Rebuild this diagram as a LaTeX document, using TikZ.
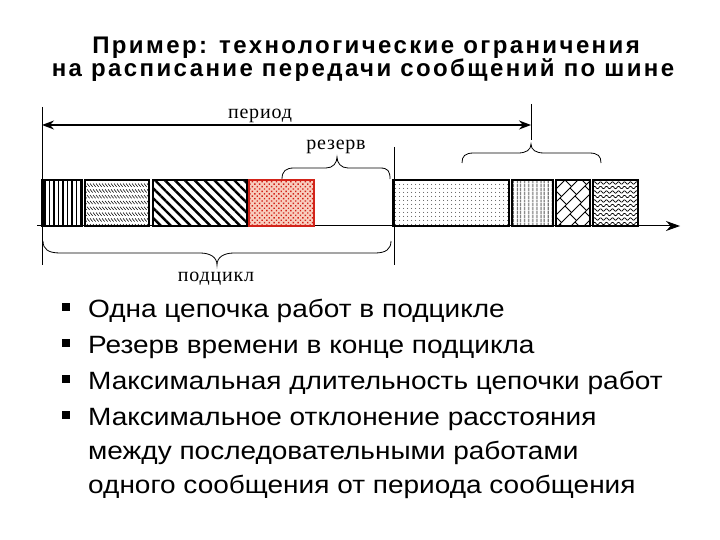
\documentclass[tikz,border=0pt]{standalone}
\usepackage{fontspec}
\setmainfont{Liberation Serif}
\newfontfamily\arialf[FakeStretch=1.12]{Liberation Sans}
\newfontfamily\arialt[LetterSpace=10]{Liberation Sans}
\newfontfamily\timesl[LetterSpace=4]{Liberation Serif}
\usetikzlibrary{patterns.meta,arrows.meta}
\definecolor{resred}{RGB}{210,35,25}
\definecolor{respink}{RGB}{248,205,190}
\begin{document}
\begin{tikzpicture}[x=1pt,y=-1pt,
  titlestyle/.style={font=\arialt\bfseries\fontsize{24}{24}\selectfont, anchor=base, inner sep=0pt},
  itemstyle/.style={font=\arialf\fontsize{25}{25}\selectfont, anchor=base west, inner sep=0pt},
  lblstyle/.style={font=\timesl\fontsize{20}{20}\selectfont, anchor=base, inner sep=0pt},
  boxstyle/.style={draw=black, line width=2.2pt},
  thinline/.style={line width=0.9pt},
  bracestyle/.style={line width=0.8pt},
  bulletstyle/.style={fill=black}]
\useasboundingbox (0,0) rectangle (720,540);

% title
\node[titlestyle] (t1) at (366,54) {Пример: технологические ограничения};
\node[titlestyle] (t2) at (363,77) {на расписание передачи сообщений по шине};

% vertical marker lines
\draw[thinline] (42,107) -- (42,265);
\draw[thinline] (394,147) -- (394,265);
\draw[thinline] (531,104) -- (531,140);

% period arrow
\draw[line width=1.4pt, {Stealth[length=12pt,width=9pt]}-{Stealth[length=12pt,width=9pt]}] (42,125) -- (531,125);
\node[lblstyle] (period) at (260,119) {период};

% reserve brace
\draw[bracestyle] (282,179) .. controls (282,171) and (286,168) .. (294,168) -- (326,168) .. controls (333,168) and (337,163) .. (337,157) .. controls (337,163) and (341,168) .. (348,168) -- (380,168) .. controls (388,168) and (390,171) .. (390,179);
\node[lblstyle] (reserve) at (336,150) {резерв};

% right brace
\draw[bracestyle] (462,163) .. controls (462,156) and (465,153) .. (474,153) -- (518,153) .. controls (526,153) and (531,150) .. (531,144) .. controls (531,150) and (536,153) .. (544,153) -- (589,153) .. controls (598,153) and (601,156) .. (601,163);

% subcycle brace
\draw[bracestyle] (43,241) .. controls (43,249) and (48,253) .. (60,253) -- (200,253) .. controls (210,253) and (217,257) .. (217,265) .. controls (217,257) and (224,253) .. (234,253) -- (375,253) .. controls (386,253) and (391,249) .. (391,241);
\node[lblstyle] (subcycle) at (216,281) {подцикл};

% time axis
\draw[line width=1pt, -{Stealth[length=14pt,width=10pt]}] (37,226) -- (680,226);

% box 1: vertical lines
\fill[pattern={Lines[angle=90,distance=4.5pt,line width=1.1pt]}] (42,180) rectangle (82,226);
\draw[boxstyle] (42,180) rectangle (82,226);
\draw[line width=2pt] (43.5,180) -- (43.5,226);

% box 2: rows of small slashes
\begin{scope}
\clip (85,180) rectangle (149,226);
\foreach \r in {0,...,7} {
  \foreach \c in {0,...,22} {
    \draw[line width=0.55pt] ({84+3*\c},{183.5+5.8*\r}) -- ++(2.6,3.2);
  }
}
\end{scope}
\draw[boxstyle] (85,180) rectangle (149,226);

% box 3: thick diagonals
\fill[pattern={Lines[angle=-45,distance=7pt,line width=2.4pt]}] (153,180) rectangle (247,226);
\draw[boxstyle] (153,180) rectangle (247,226);

% box 4: red dotted
\fill[respink] (249,180) rectangle (314,226);
\fill[pattern={Dots[angle=45,distance=3.4pt,radius=1pt]}, pattern color=resred] (249,180) rectangle (314,226);
\draw[boxstyle, draw=resred] (249,180) rectangle (314,226);

% box 5: fine dots
\fill[pattern={Dots[distance=4pt,radius=0.55pt]}] (393,180) rectangle (509,226);
\draw[boxstyle] (393,180) rectangle (509,226);

% box 6: vertical lines
\fill[pattern={Lines[angle=90,distance=4pt,line width=0.9pt]}] (512,180) rectangle (553,226);
\draw[boxstyle] (512,180) rectangle (553,226);

% box 7: diagonal bricks
\begin{scope}
\clip (556,180) rectangle (590,226);
\foreach \k in {0,...,7} {
  \pgfmathsetmacro\cc{732+13*\k}
  \draw[line width=0.8pt] ({\cc-240},240) -- ({\cc-170},170);
  \foreach \j in {0,...,6} {
    \pgfmathsetmacro\xx{540+10*\j+5*mod(\k,2)}
    \draw[line width=0.8pt] (\xx,{\cc-\xx}) -- ++(6.5,6.5);
  }
}
\end{scope}
\draw[boxstyle] (556,180) rectangle (590,226);

% box 8: waves
\begin{scope}
\clip (593,180) rectangle (638,226);
\foreach \yy in {183,187.5,...,226} {
  \draw[line width=0.7pt] plot[domain=0:50, samples=70, smooth] ({590+\x},{\yy+1.2*sin(\x*60)});
}
\end{scope}
\draw[boxstyle] (593,180) rectangle (638,226);

% bullets
\fill[bulletstyle] (62,303) rectangle (70,311);
\fill[bulletstyle] (62,339) rectangle (70,347);
\fill[bulletstyle] (62,375) rectangle (70,383);
\fill[bulletstyle] (62,411) rectangle (70,419);
\node[itemstyle] (i1) at (88,317) {Одна цепочка работ в подцикле};
\node[itemstyle] (i2) at (88,353) {Резерв времени в конце подцикла};
\node[itemstyle] (i3) at (88,389) {Максимальная длительность цепочки работ};
\node[itemstyle] (i4) at (88,425) {Максимальное отклонение расстояния};
\node[itemstyle] (i5) at (88,459) {между последовательными работами};
\node[itemstyle] (i6) at (88,493) {одного сообщения от периода сообщения};
\end{tikzpicture}
\end{document}
